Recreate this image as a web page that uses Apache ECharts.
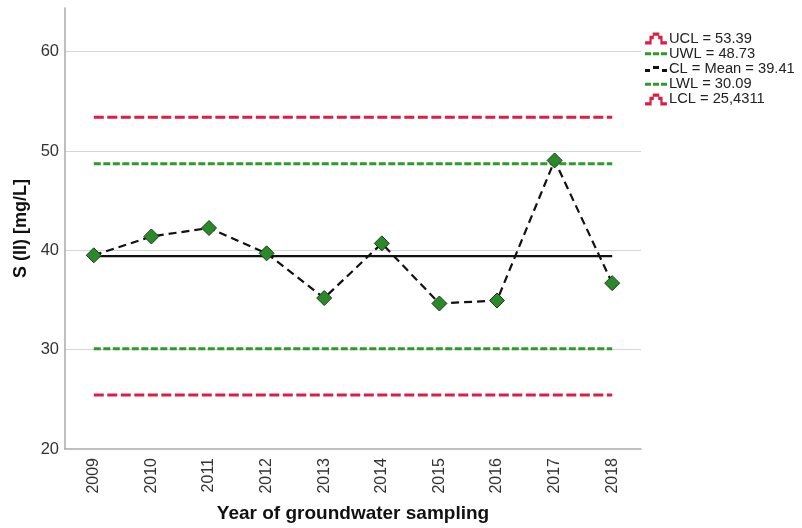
<!DOCTYPE html>
<html>
<head>
<meta charset="utf-8">
<script src="https://cdn.jsdelivr.net/npm/echarts@6/dist/echarts.min.js"></script>
<style>
  html, body { margin: 0; padding: 0; background: #fff; }
  #chart { width: 802px; height: 528px; }
</style>
</head>
<body>
<div id="chart"></div>
<script>
// Sampling years and measured sulfide concentration
const years = ['2009', '2010', '2011', '2012', '2013', '2014', '2015', '2016', '2017', '2018'];
const sValues = [39.5, 41.4, 42.25, 39.7, 35.2, 40.7, 34.65, 34.95, 49.05, 36.7];

// Control chart limits
const limitNames = ['UCL = 53.39', 'UWL = 48.73', 'CL = Mean = 39.41', 'LWL = 30.09', 'LCL = 25,4311'];
const limitValues = [53.39, 48.73, 39.41, 30.09, 25.4311];
const limitColors = ['#dc1e44', '#2e9a2a', '#111111', '#2e9a2a', '#dc1e44'];
const limitDash = [[10, 3.5], [7, 2.5], 'solid', [7, 2.5], [10, 3.5]];
const limitWidth = [3, 3, 2.2, 3, 3];

const yTicks = [20, 30, 40, 50, 60];

const iconRed = 'path://M0,9h4v-5h3v-3h6v3h3v5h4v3h-6v-5h-2v-3h-4v3h-2v5h-6z';
const iconGreen = 'path://M0,5h6v3H0z M8,5h6v3H8z M16,5h6v3h-6z';
const iconBlack = 'path://M0,6h5v3H0z M8,3h6v3H8z M17,6h5v3h-5z';
const limitIcons = [iconRed, iconGreen, iconBlack, iconGreen, iconRed];

const chart = echarts.init(document.getElementById('chart'), null, { renderer: 'canvas' });

const limitSeries = limitNames.map((name, i) => ({
  name: name,
  type: 'line',
  data: years.map(() => limitValues[i]),
  symbol: 'none',
  silent: true,
  z: 2,
  lineStyle: { color: limitColors[i], width: limitWidth[i], type: limitDash[i] },
  itemStyle: { color: limitColors[i] }
}));

chart.setOption({
  animation: false,
  backgroundColor: '#ffffff',
  textStyle: { fontFamily: 'Liberation Sans, Arial, sans-serif' },
  grid: { left: 65, right: 161, top: 8, bottom: 69 },
  legend: {
    data: limitNames.map((n, i) => ({ name: n, icon: limitIcons[i], itemStyle: { color: limitColors[i] } })),
    orient: 'vertical',
    left: 640,
    top: 26,
    itemWidth: 22,
    itemHeight: 12,
    itemGap: 0,
    textStyle: { fontSize: 14.7, lineHeight: 15.2, color: '#222', padding: [0, 0, 0, -3] }
  },
  xAxis: {
    type: 'category',
    data: years,
    boundaryGap: true,
    name: 'Year of groundwater sampling',
    nameLocation: 'middle',
    nameGap: 55,
    nameTextStyle: { fontSize: 19, fontWeight: 'bold', color: '#111' },
    axisLine: { lineStyle: { color: '#aaaaaa', width: 1.5 } },
    axisTick: { show: false },
    axisLabel: { rotate: 90, fontSize: 16, color: '#333', margin: 9 }
  },
  yAxis: {
    type: 'value',
    min: 20,
    max: 64.4,
    interval: 10,
    name: 'S (II) [mg/L]',
    nameLocation: 'middle',
    nameGap: 32,
    nameTextStyle: { fontSize: 18, fontWeight: 'bold', color: '#111' },
    axisLine: { show: true, lineStyle: { color: '#aaaaaa', width: 1.5 } },
    axisTick: { show: false },
    axisLabel: {
      fontSize: 16.5, color: '#333', margin: 6, showMaxLabel: false,
      formatter: v => (yTicks.indexOf(v) >= 0 ? String(v) : '')
    },
    splitLine: { show: true, showMaxLine: false, showMinLine: false, lineStyle: { color: '#d6d6d6', width: 1.2 } }
  },
  series: limitSeries.concat([{
    name: 'S (II)',
    type: 'line',
    data: sValues,
    z: 5,
    symbol: 'diamond',
    symbolSize: 15,
    lineStyle: { color: '#111', width: 2.2, type: [8, 5] },
    itemStyle: { color: '#2a8a2a', borderColor: '#1c3b1c', borderWidth: 1 }
  }])
});
</script>
</body>
</html>
